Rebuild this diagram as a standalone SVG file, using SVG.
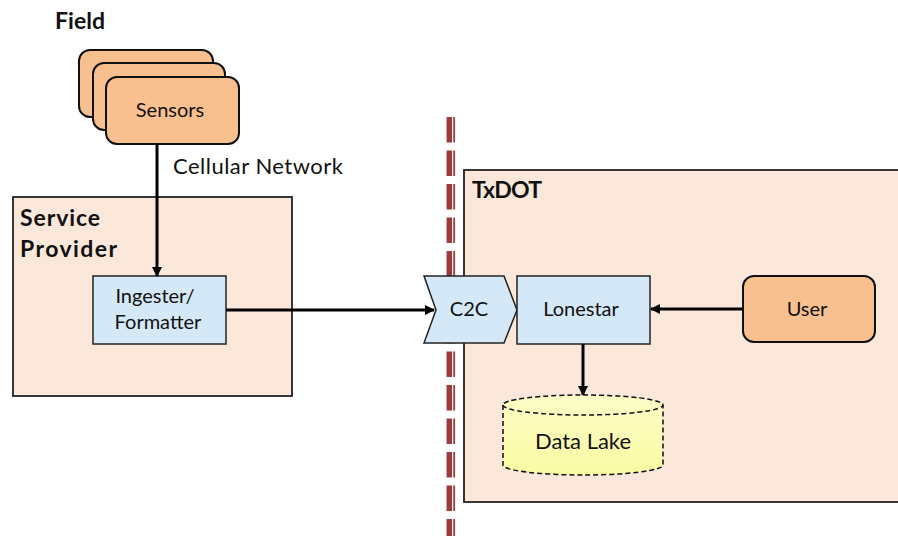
<svg xmlns="http://www.w3.org/2000/svg" width="898" height="536" viewBox="0 0 898 536">
<style>
text{font-family:Lato,"Liberation Sans",Arial,sans-serif;fill:#111}
.b{font-weight:bold;font-size:23px}
.t{font-size:20px;text-anchor:middle}
.cont{fill:#fce8da;stroke:#222;stroke-width:1.8}
.org{fill:#f9c08f;stroke:#111;stroke-width:2}
.blu{fill:#d4e8f7;stroke:#222;stroke-width:1.5}
.con{stroke:#000;stroke-width:3;fill:none;marker-end:url(#ah)}
</style>
<defs>
<marker id="ah" markerWidth="10" markerHeight="10" refX="9" refY="5" orient="auto" markerUnits="userSpaceOnUse" viewBox="0 0 10 10">
<path d="M0,0 L10,5 L0,10 z" fill="#000"/>
</marker>
<linearGradient id="lk" x1="0" y1="0" x2="0" y2="1">
<stop offset="0" stop-color="#fdfdc8"/>
<stop offset="1" stop-color="#fafba2"/>
</linearGradient>
</defs>
<g id="boundary">
<line x1="449.3" y1="117" x2="449.3" y2="536" stroke="#9b3b3b" stroke-width="5.5" stroke-dasharray="25.5 8"/>
<line x1="454.2" y1="117" x2="454.2" y2="536" stroke="#9b3b3b" stroke-width="1.8" stroke-dasharray="25.5 8"/>
</g>
<g id="field"><text class="b" x="55" y="29" textLength="50">Field</text></g>
<g id="service-provider">
<rect class="cont" x="13" y="197" width="279" height="199"/>
<text class="b" x="20" y="226" textLength="80">Service</text>
<text class="b" x="20" y="257" textLength="97">Provider</text>
</g>
<g id="txdot">
<rect class="cont" x="464" y="170" width="440" height="332"/>
<text class="b" x="472" y="198" textLength="70">TxDOT</text>
</g>
<g id="sensors">
<rect class="org" x="79" y="50" width="134" height="67" rx="11"/>
<rect class="org" x="93" y="63" width="132" height="67" rx="11"/>
<rect class="org" x="106" y="77" width="133" height="67" rx="11"/>
<text class="t" x="170" y="117">Sensors</text>
</g>
<g id="ingester">
<rect class="blu" x="93" y="276" width="133" height="68"/>
<text class="t" x="155" y="303">Ingester/</text>
<text class="t" x="158" y="329">Formatter</text>
</g>
<g id="c2c">
<path class="blu" d="M424,276 L504,276 L517,310 L504,343 L424,343 L436,310 z"/>
<text class="t" x="469" y="316">C2C</text>
</g>
<g id="lonestar">
<rect class="blu" x="517" y="276" width="133" height="68"/>
<text class="t" x="581" y="316">Lonestar</text>
</g>
<g id="user">
<rect class="org" x="743" y="276" width="132" height="66" rx="11"/>
<text class="t" x="807" y="316">User</text>
</g>
<g id="data-lake">
<path d="M503,405 L503,465 A80,10 0 0 0 663,465 L663,405 A80,10 0 0 0 503,405 z" fill="url(#lk)" stroke="#111" stroke-width="1.5" stroke-dasharray="5 3"/>
<path d="M503,405 A80,10 0 0 0 663,405" fill="none" stroke="#111" stroke-width="1.5" stroke-dasharray="5 3"/>
<text x="583" y="449" style="font-size:22px;text-anchor:middle">Data Lake</text>
</g>
<g id="connectors">
<line class="con" x1="157" y1="144" x2="157" y2="276"/>
<text x="173" y="174" textLength="170" style="font-size:22px">Cellular Network</text>
<line class="con" x1="226" y1="310" x2="434" y2="310"/>
<line class="con" x1="743" y1="309" x2="651" y2="309"/>
<line class="con" x1="583" y1="344" x2="583" y2="395"/>
</g>
</svg>
